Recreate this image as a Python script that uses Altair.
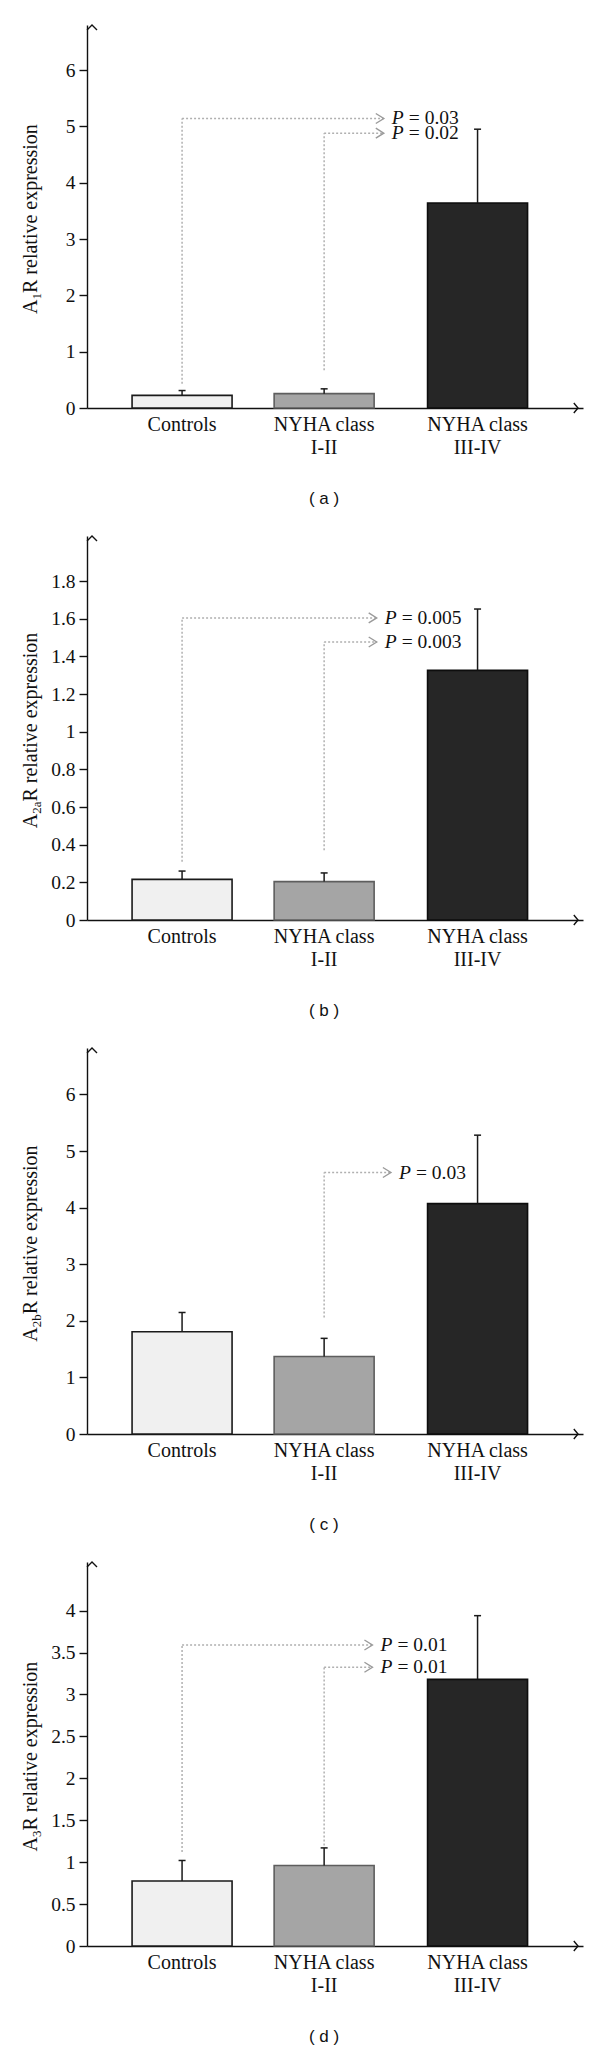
import altair as alt
import pandas as pd

SERIF = "Liberation Serif"
SANS = "Liberation Sans"

# ---------------- data ----------------
categories = ["Controls", "NYHA class\nI-II", "NYHA class\nIII-IV"]
group_pos = [1.0, 2.0, 3.08]
bar_fills = ["#f0f0f0", "#a5a5a5", "#262626"]
bar_strokes = ["#1a1a1a", "#5e5e5e", "#0d0d0d"]

panel_letters = ["a", "b", "c", "d"]
receptor_subs = ["1", "2a", "2b", "3"]

# (a) A1R
a_mean = [0.225, 0.255, 3.64]
a_upper = [0.31, 0.34, 4.95]
# (b) A2aR
b_mean = [0.216, 0.204, 1.326]
b_upper = [0.26, 0.25, 1.652]
# (c) A2bR
c_mean = [1.806, 1.37, 4.07]
c_upper = [2.147, 1.69, 5.28]
# (d) A3R
d_mean = [0.775, 0.96, 3.18]
d_upper = [1.02, 1.17, 3.94]

a_ticks = [0, 1, 2, 3, 4, 5, 6]
b_ticks = [0, 0.2, 0.4, 0.6, 0.8, 1, 1.2, 1.4, 1.6, 1.8]
c_ticks = [0, 1, 2, 3, 4, 5, 6]
d_ticks = [0, 0.5, 1, 1.5, 2, 2.5, 3, 3.5, 4]
y_max = [6.8, 2.04, 6.82, 4.58]

# significance annotations: compared group, start of dotted line, bracket level, p-value
a_ann_from = [1.0, 2.0]
a_ann_start = [0.43, 0.67]
a_ann_level = [5.14, 4.88]
a_ann_p = ["0.03", "0.02"]

b_ann_from = [1.0, 2.0]
b_ann_start = [0.31, 0.37]
b_ann_level = [1.605, 1.477]
b_ann_p = ["0.005", "0.003"]

c_ann_from = [2.0]
c_ann_start = [2.06]
c_ann_level = [4.62]
c_ann_p = ["0.03"]

d_ann_from = [1.0, 2.0]
d_ann_start = [1.12, 1.2]
d_ann_level = [3.59, 3.325]
d_ann_p = ["0.01", "0.01"]

arrow_pos = [2.42, 2.37, 2.47, 2.34]

# ---------------- layout ----------------
X_DOMAIN = [0.366, 3.787]
W = 496
HEIGHTS = [383, 384, 386, 384]
TITLE_FS = 20
SUB_FS = 13
SUB_W = {"1": 6.5, "2a": 12.3, "2b": 13.0, "3": 6.5}
A_W = 0.722 * TITLE_FS
MAIN_W = 8.694 * TITLE_FS
TITLE_X = -50


def make_panel(letter, sub, mean, upper, ticks, ymax, ann_from, ann_start,
               ann_level, ann_p, arrow_x, H):
    bars = pd.DataFrame({"cat": categories, "pos": group_pos,
                         "mean": mean, "upper": upper})
    ann = pd.DataFrame({"from": ann_from, "start": ann_start,
                        "level": ann_level,
                        "p": ["= " + p for p in ann_p],
                        "arrow": [arrow_x] * len(ann_from)})
    ends = pd.DataFrame({"xmin": [X_DOMAIN[0]], "xmax": [X_DOMAIN[1]],
                         "ymax": [ymax], "ymin": [0.0]})

    xs = alt.Scale(domain=X_DOMAIN, nice=False, zero=False)
    ys = alt.Scale(domain=[0, ymax], nice=False, zero=False)
    x_axis = alt.Axis(ticks=False, labels=False, grid=False, title=None,
                      domainColor="#111", domainWidth=1.4)
    y_axis = alt.Axis(values=ticks, format="~g", grid=False, title=None,
                      tickSize=8, tickColor="#111", tickWidth=1.4,
                      domainColor="#111", domainWidth=1.4,
                      labelFont=SERIF, labelFontSize=19.5,
                      labelColor="#111", labelPadding=4)

    def X(f):
        return alt.X(f, type="quantitative", scale=xs, axis=x_axis)

    def Y(f):
        return alt.Y(f, type="quantitative", scale=ys, axis=y_axis)

    bar_layer = alt.Chart(bars).mark_bar(
        orient="vertical", size=100, strokeWidth=1.6
    ).encode(
        x=X("pos"), y=Y("mean"),
        fill=alt.Fill("cat:N", scale=alt.Scale(domain=categories, range=bar_fills), legend=None),
        stroke=alt.Stroke("cat:N", scale=alt.Scale(domain=categories, range=bar_strokes), legend=None),
    )

    err = alt.Chart(bars).mark_rule(color="#1a1a1a", strokeWidth=1.5).encode(
        x=X("pos"), y=Y("mean"), y2="upper:Q")
    caps = alt.Chart(bars).mark_tick(orient="horizontal", size=7, thickness=1.5,
                                     color="#1a1a1a", opacity=1).encode(
        x=X("pos"), y=Y("upper"))

    vline = alt.Chart(ann).mark_rule(color="#b0b0b0", strokeWidth=1.5,
                                     strokeDash=[2, 2]).encode(
        x=X("from"), y=Y("start"), y2="level:Q")
    hline = alt.Chart(ann).mark_rule(color="#b0b0b0", strokeWidth=1.5,
                                     strokeDash=[2, 2]).encode(
        x=X("from"), x2="arrow:Q", y=Y("level"))
    chev = alt.Chart(ann).mark_point(shape="M-1.6,-1L0,0L-1.6,1", filled=False,
                                     size=100, color="#9a9a9a", strokeWidth=1.4,
                                     opacity=1).encode(
        x=X("arrow"), y=Y("level"))
    ptxt = alt.Chart(ann).mark_text(text="P", font=SERIF, fontStyle="italic",
                                    fontSize=19.5, align="left", baseline="middle",
                                    dx=8, color="#111").encode(
        x=X("arrow"), y=Y("level"))
    pval = alt.Chart(ann).mark_text(font=SERIF, fontSize=19.5, align="left",
                                    baseline="middle", dx=25, color="#111").encode(
        x=X("arrow"), y=Y("level"), text="p:N")

    cat_lbl = alt.Chart(bars).mark_text(font=SERIF, fontSize=20, align="center",
                                        baseline="top", lineBreak="\n",
                                        lineHeight=23, color="#111").encode(
        x=X("pos"), y=alt.value(H + 7), text="cat:N")

    y_arrow = alt.Chart(ends).mark_point(shape="M-1,1L0,0L1,1", filled=False,
                                         size=100, color="#111", strokeWidth=1.4,
                                         opacity=1).encode(
        x=X("xmin"), y=Y("ymax"))
    x_arrow = alt.Chart(ends).mark_point(shape="M-1,-1.2L0,0L-1,1.2", filled=False,
                                         size=70, color="#111", strokeWidth=1.4,
                                         opacity=1).encode(
        x=X("xmax"), y=Y("ymin"))

    L = A_W + SUB_W[sub] + MAIN_W
    y0 = H / 2 + L / 2
    t_a = alt.Chart(pd.DataFrame({"t": ["A"]})).mark_text(
        font=SERIF, fontSize=TITLE_FS, angle=270, align="left",
        baseline="alphabetic", color="#111").encode(
        x=alt.value(TITLE_X), y=alt.value(y0), text="t:N")
    t_sub = alt.Chart(pd.DataFrame({"t": [sub]})).mark_text(
        font=SERIF, fontSize=SUB_FS, angle=270, align="left",
        baseline="alphabetic", color="#111").encode(
        x=alt.value(TITLE_X + 4), y=alt.value(y0 - A_W), text="t:N")
    t_main = alt.Chart(pd.DataFrame({"t": [" R relative expression"]})).mark_text(
        font=SERIF, fontSize=TITLE_FS, angle=270, align="left",
        baseline="alphabetic", color="#111").encode(
        x=alt.value(TITLE_X), y=alt.value(y0 - A_W - SUB_W[sub]), text="t:N")

    cap = alt.Chart(pd.DataFrame({"t": ["( " + letter + " )"]})).mark_text(
        font=SANS, fontSize=17, align="center", baseline="middle",
        color="#111").encode(
        x=alt.value(237), y=alt.value(H + 91), text="t:N")

    return alt.layer(bar_layer, err, caps, vline, hline, chev, ptxt, pval,
                     cat_lbl, y_arrow, x_arrow, t_a, t_sub, t_main, cap
                     ).properties(width=W, height=H)


panels = [
    make_panel("a", "1", a_mean, a_upper, a_ticks, y_max[0], a_ann_from,
               a_ann_start, a_ann_level, a_ann_p, arrow_pos[0], HEIGHTS[0]),
    make_panel("b", "2a", b_mean, b_upper, b_ticks, y_max[1], b_ann_from,
               b_ann_start, b_ann_level, b_ann_p, arrow_pos[1], HEIGHTS[1]),
    make_panel("c", "2b", c_mean, c_upper, c_ticks, y_max[2], c_ann_from,
               c_ann_start, c_ann_level, c_ann_p, arrow_pos[2], HEIGHTS[2]),
    make_panel("d", "3", d_mean, d_upper, d_ticks, y_max[3], d_ann_from,
               d_ann_start, d_ann_level, d_ann_p, arrow_pos[3], HEIGHTS[3]),
]

chart = alt.vconcat(*panels, spacing=26).properties(
    padding={"left": 12, "top": 14, "right": 5, "bottom": 0}
).configure(font=SERIF, background="white").configure_view(strokeWidth=0)

chart.save("out.html", embed_options={"renderer": "svg", "actions": False})
